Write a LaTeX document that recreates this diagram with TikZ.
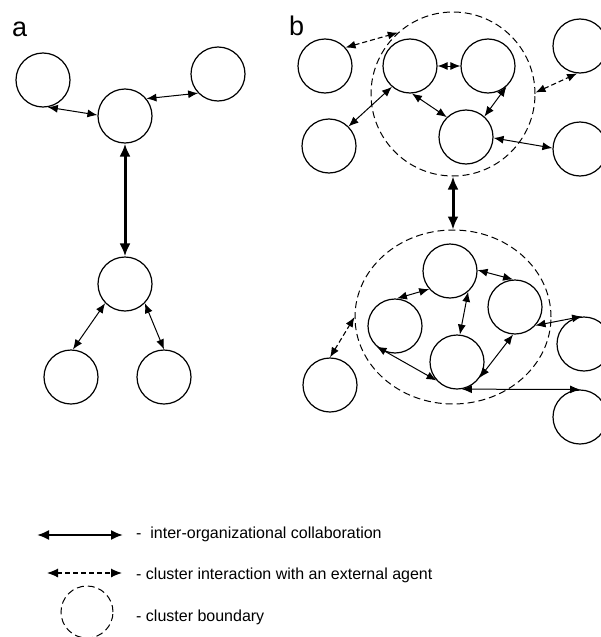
\documentclass[tikz,border=0pt]{standalone}
\usepackage{fontspec}
\setmainfont{Liberation Sans}
\usetikzlibrary{arrows.meta, shapes.geometric}

\begin{document}
\begin{tikzpicture}[x=1pt, y=-1pt, >={Latex[length=10pt,width=8pt]}]
		\tikzstyle{agent} = [draw=black, line width=1.2pt, circle, minimum size=54pt, inner sep=0pt]
		\tikzstyle{cluster} = [draw=black, line width=1pt, dash pattern=on 7pt off 4pt, inner sep=0pt]
		\tikzstyle{link} = [<->, line width=1pt]
		\tikzstyle{strong} = [<->, line width=3pt, >={Latex[length=13pt,width=11pt]}]
		\tikzstyle{extlink} = [<->, line width=1.1pt, dash pattern=on 5pt off 3pt]
		\tikzstyle{panel} = [font=\fontsize{27}{30}\selectfont, inner sep=0pt, anchor=base west]
		\tikzstyle{legend} = [font=\fontsize{16}{19}\selectfont, inner sep=0pt, anchor=base west]
		
		\useasboundingbox (0,0) rectangle (601,637);
		
		% panel a
		\node[panel]			at (12, 36)		(la)	{a};
		\node[agent]			at (43, 80)		(a1)	{};
		\node[agent]			at (218, 74)	(a2)	{};
		\node[agent]			at (125, 116)	(a3)	{};
		\node[agent]			at (125, 284)	(a4)	{};
		\node[agent]			at (71, 377)	(a5)	{};
		\node[agent]			at (164, 377)	(a6)	{};
		
		\path[link]
		(a1.-80)	edge	(a3.178)
		(a3.39)		edge	(a2.224)
		(a4.224)	edge	(a5.86)
		(a4.-44)	edge	(a6.90);
		\draw[strong] (a3.south) -- (a4.north);
		
		% panel b
		\node[panel]			at (289, 35)	(lb)	{b};
		\node[cluster, circle, minimum size=164pt]	at (453, 94)	(c1)	{};
		\node[cluster, ellipse, minimum width=196pt, minimum height=174pt]	at (453, 317)	(c2)	{};
		
		\node[agent]			at (410, 66)	(b1)	{};
		\node[agent]			at (488, 66)	(b2)	{};
		\node[agent]			at (466, 137)	(b3)	{};
		\node[agent]			at (325, 66)	(e1)	{};
		\node[agent]			at (329, 146)	(e2)	{};
		\node[agent]			at (580, 46)	(e3)	{};
		\node[agent]			at (580, 149)	(e4)	{};
		
		\node[agent]			at (450, 271)	(p)		{};
		\node[agent]			at (515, 307)	(q)		{};
		\node[agent]			at (395, 326)	(r)		{};
		\node[agent]			at (457, 362)	(s)		{};
		\node[agent]			at (330, 385)	(e5)	{};
		\node[agent]			at (584, 344)	(e6)	{};
		\node[agent]			at (580, 417)	(e7)	{};
		
		\path[link]
		(b1.east)	edge	(b2.west)
		(b1.-86)	edge	(b3.134)
		(b2.-48)	edge	(b3.48)
		(e2.45)		edge	(b1.229)
		(b3.-2)		edge	(e4.178)
		(p.2)		edge	(q.94)
		(p.221)		edge	(r.86)
		(p.-49)		edge	(s.84)
		(r.228)		edge	(s.222)
		(s.-35)		edge	(q.266)
		(q.-42)		edge	(e6.94)
		(s.-80)		edge	(e7.north);
		
		\path[extlink]
		(e1.42)		edge	(c1.132)
		(c1.1)		edge	(e3.-96)
		(e5.north)	edge	(c2.west);
		
		\draw[strong] (c1.south) -- (c2.north);
		
		% legend
		\coordinate (s1) at (37, 535);
		\coordinate (s2) at (123, 535);
		\coordinate (d1) at (47, 573);
		\coordinate (d2) at (122, 573);
		\draw[<->, line width=2pt, >={Latex[length=12pt,width=10pt]}] (s1) -- (s2);
		\draw[extlink, >={Latex[length=11pt,width=9pt]}] (d1) -- (d2);
		\node[cluster, circle, minimum size=52pt]	at (87, 612)	(cb)	{};
		
		\node[legend]			at (136, 538)	(t1)	{-~ inter-organizational collaboration};
		\node[legend]			at (136, 579)	(t2)	{- cluster interaction with an external agent};
		\node[legend]			at (136, 621)	(t3)	{- cluster boundary};
		\end{tikzpicture}
\end{document}
